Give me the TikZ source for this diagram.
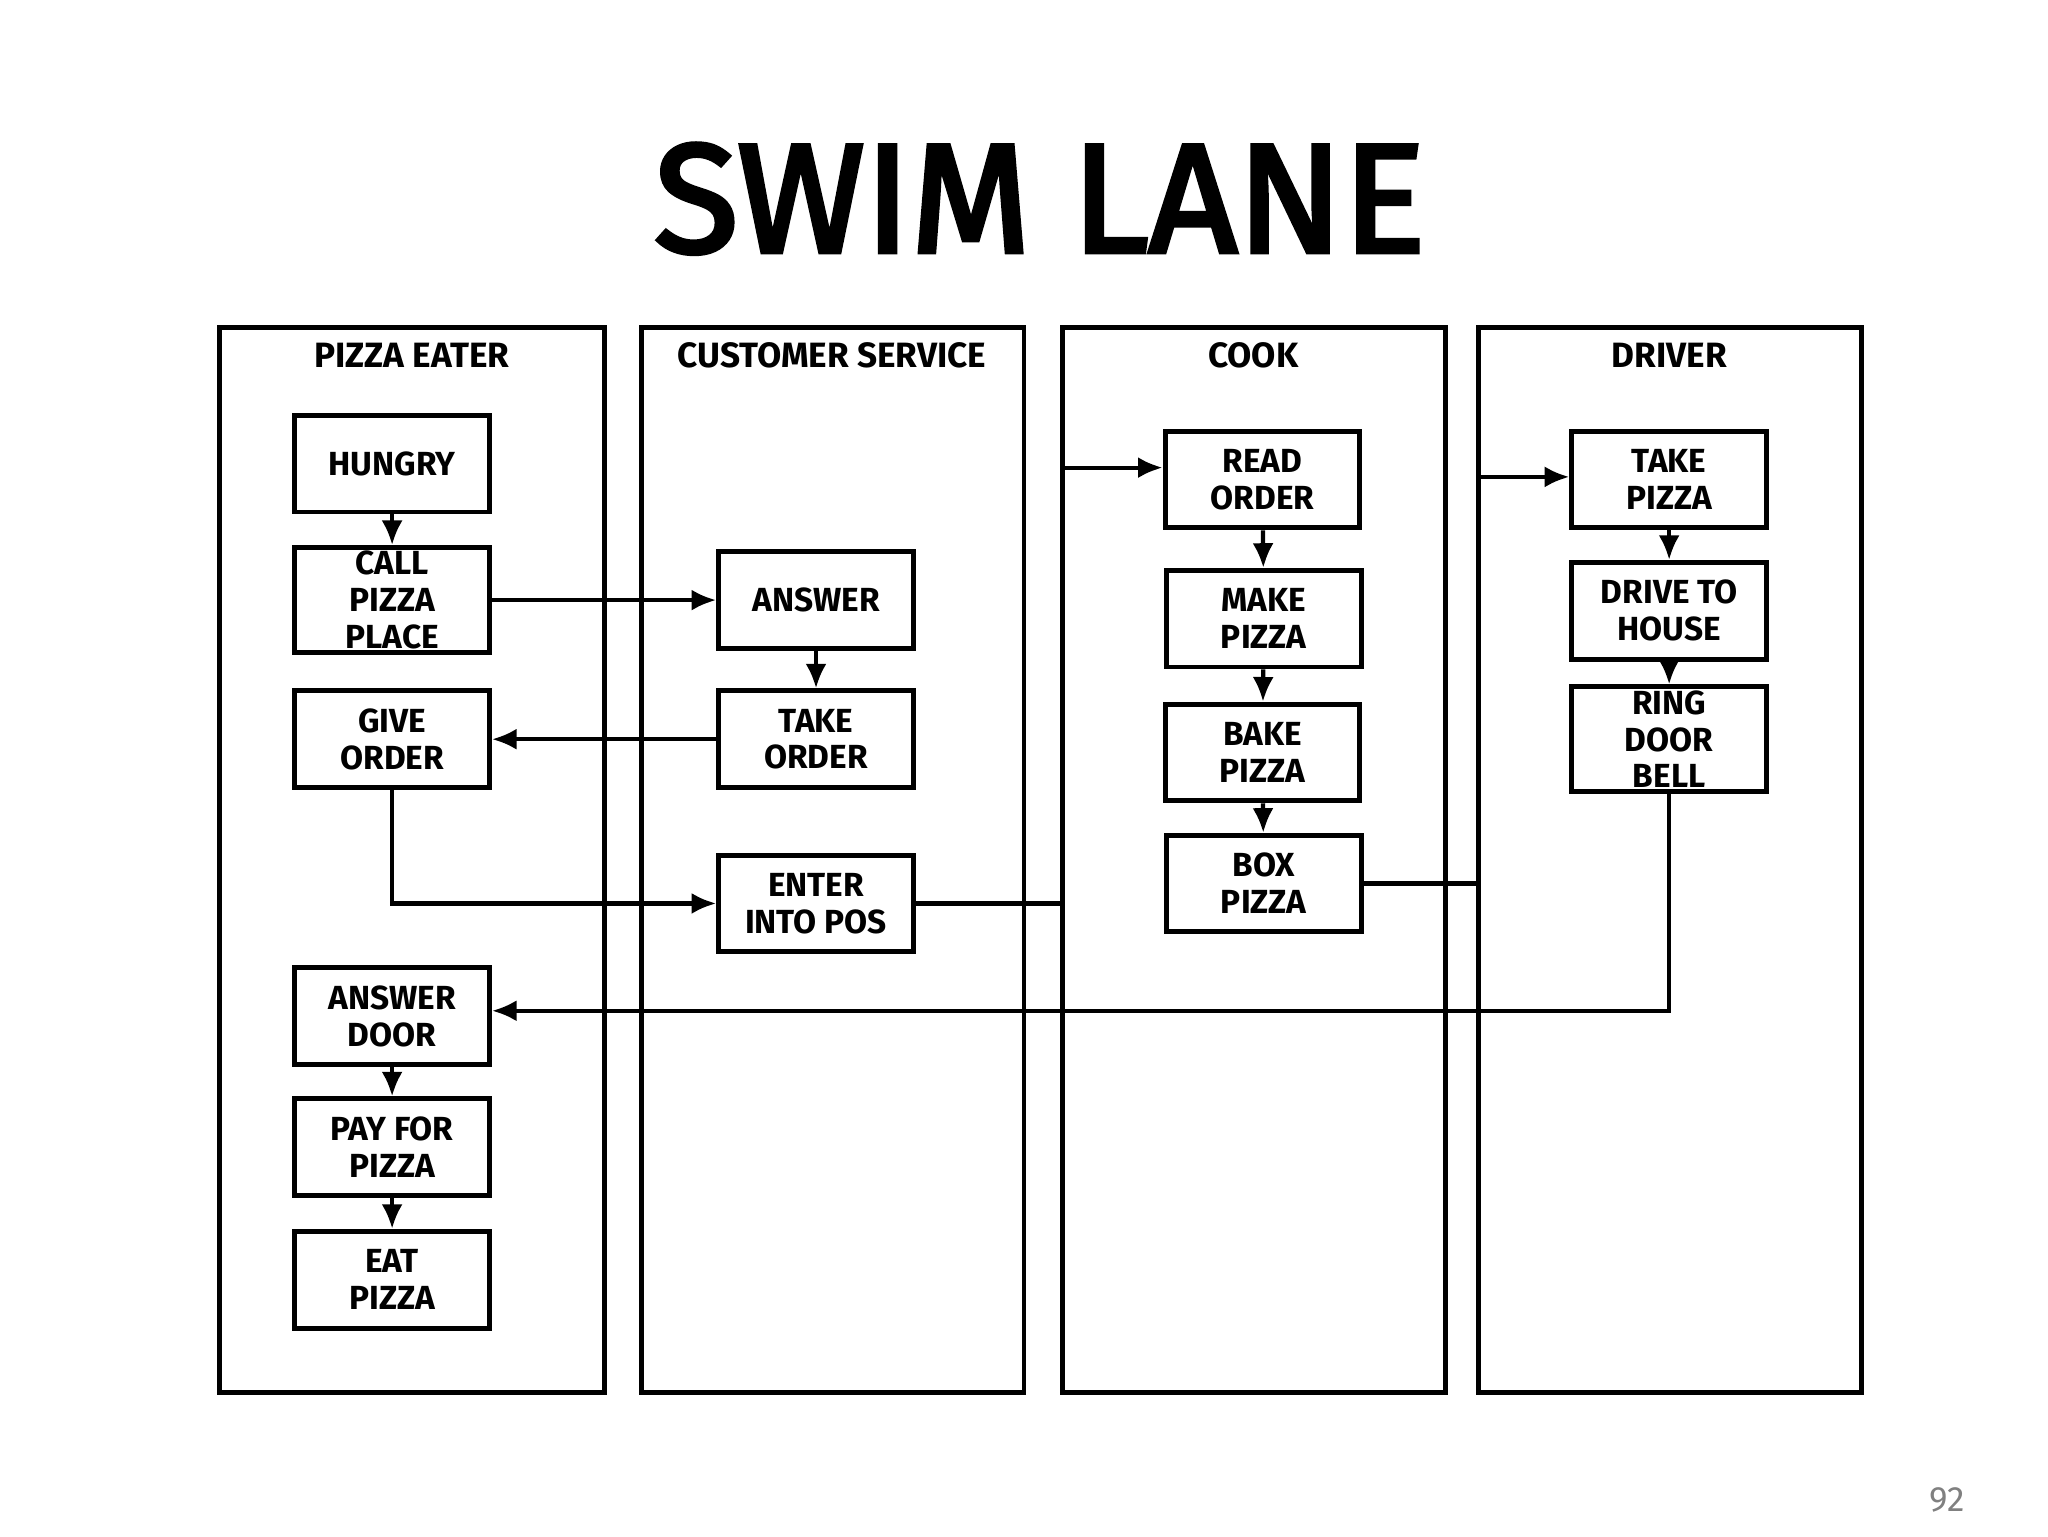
\documentclass[tikz,border=0pt]{standalone}
\usepackage{fontspec}
\setmainfont{Fira Sans}
\newfontfamily\titlefont[FakeBold=3]{Fira Sans}
\usetikzlibrary{arrows.meta}
\begin{document}
\begin{tikzpicture}[x=0.013247cm,y=-0.013247cm,
  lane/.style={draw,line width=1.4pt},
  bx/.style={draw,line width=1.4pt,minimum width=1.947cm,minimum height=0.967cm,align=center,font=\bfseries\fontsize{9.5}{10.5}\selectfont,inner sep=1pt},
  conn/.style={line width=1.2pt,-{Latex[length=7pt,width=6pt]}},
  plain/.style={line width=1.2pt},
  lanetitle/.style={font=\bfseries\fontsize{10}{12}\selectfont}]
\useasboundingbox (0,0) rectangle (1546,1160);
\node[font=\titlefont\fontsize{44}{48}\selectfont] (title) at (785,150) {SWIM LANE};
\draw[lane] (166,247) rectangle (456,1051);
\draw[lane] (484,247) rectangle (773,1051);
\draw[lane] (802,247) rectangle (1091,1051);
\draw[lane] (1116,247) rectangle (1405,1051);
\node[lanetitle] (t1) at (311,268) {PIZZA EATER};
\node[lanetitle] (t2) at (628,268) {CUSTOMER SERVICE};
\node[lanetitle] (t3) at (946,268) {COOK};
\node[lanetitle] (t4) at (1260,268) {DRIVER};
\node[bx] (hungry) at (296,350) {HUNGRY};
\node[bx] (call) at (296,453) {CALL\\PIZZA\\PLACE};
\node[bx] (give) at (296,558) {GIVE\\ORDER};
\node[bx] (ansdoor) at (296,767) {ANSWER\\DOOR};
\node[bx] (pay) at (296,866) {PAY FOR\\PIZZA};
\node[bx] (eat) at (296,966) {EAT\\PIZZA};
\node[bx] (answer) at (616,453) {ANSWER};
\node[bx] (take) at (616,558) {TAKE\\ORDER};
\node[bx] (enter) at (616,682) {ENTER\\INTO POS};
\node[bx] (read) at (953,362) {READ\\ORDER};
\node[bx] (make) at (954,467) {MAKE\\PIZZA};
\node[bx] (bake) at (953,568) {BAKE\\PIZZA};
\node[bx] (boxp) at (954,667) {BOX\\PIZZA};
\node[bx] (takep) at (1260,362) {TAKE\\PIZZA};
\node[bx] (drive) at (1260,461) {DRIVE TO\\HOUSE};
\node[bx] (ring) at (1260,558) {RING\\DOOR\\BELL};
\node[text=gray,font=\fontsize{10}{12}\selectfont] (pg) at (1470,1132) {92};
\coordinate (c1) at (802,682);
\coordinate (c2) at (802,353);
\coordinate (d1) at (1116,667);
\coordinate (d2) at (1116,360);
\coordinate (r1) at (1260,763);
\draw[conn] (hungry) -- (call);
\draw[conn] (call) -- (answer);
\draw[conn] (answer) -- (take);
\draw[conn] (take) -- (give);
\draw[conn] (give.south) |- (enter.west);
\draw[plain] (enter.east) -- (c1);
\draw[conn] (c2) -- (read.west|-c2);
\draw[conn] (read) -- (make);
\draw[conn] (make) -- (bake);
\draw[conn] (bake) -- (boxp);
\draw[plain] (boxp.east|-d1) -- (d1);
\draw[conn] (d2) -- (takep.west|-d2);
\draw[conn] (takep) -- (drive);
\draw[conn] (drive) -- (ring);
\draw[conn] (ring.south) -- (r1) -- (ansdoor.east|-r1);
\draw[conn] (ansdoor) -- (pay);
\draw[conn] (pay) -- (eat);
\end{tikzpicture}
\end{document}
